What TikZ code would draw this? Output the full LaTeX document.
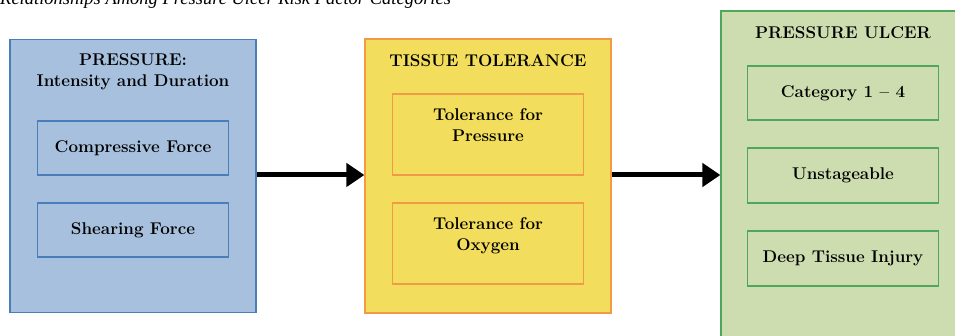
\documentclass[tikz,border=0pt]{standalone}
\usepackage{fontspec}
\usepackage{tikz}
\usepackage{xcolor}
\usetikzlibrary{arrows.meta, positioning, shapes}
\newfontfamily\captionfont{Liberation Serif}
\tikzset{
	% Define arrow style
	pil/.style={
		-{Triangle[length=18pt,width=23pt]},
		line width=5pt
	},
	% outer boxes
	group/.style={
		rectangle,
		draw,
		line width=1.2pt,
		minimum width=246pt
	},
	item/.style={
		rectangle,
		draw,
		line width=1.2pt,
		minimum width=191pt,
		align=center,
		font=\fontsize{17}{21}\selectfont\bfseries
	},
	head/.style={
		align=center,
		font=\fontsize{17}{21}\selectfont\bfseries
	}
}
\definecolor{boxblue}{HTML}{A7C0DE}
\definecolor{lineblue}{HTML}{4A7EBB}
\definecolor{boxyellow}{HTML}{F2DD5C}
\definecolor{lineorange}{HTML}{F39A47}
\definecolor{boxgreen}{HTML}{CEDDB0}
\definecolor{linegreen}{HTML}{4EA85C}

\begin{document}
\begin{tikzpicture}[x=1pt, y=-1pt]
\useasboundingbox (0,0) rectangle (955,336);

\node[anchor=base west, inner sep=0, font=\captionfont\fontsize{18.5}{20}\selectfont\itshape] at (0,5) (caption) {Relationships Among Pressure Ulcer Risk Factor Categories};

% pressure
\node[group, fill=boxblue, draw=lineblue, minimum height=273pt] at (133,176) (press) {};
\node[head] at (133,72) (pressHead) {PRESSURE:\\Intensity and Duration};
\node[item, draw=lineblue, minimum height=54pt] at (133,148) (comp) {Compressive Force};
\node[item, draw=lineblue, minimum height=54pt] at (133,230) (shear) {Shearing Force};

% tissue tolerance
\node[group, fill=boxyellow, draw=lineorange, minimum height=274pt] at (488,176) (tol) {};
\node[head] at (488,61) (tolHead) {TISSUE TOLERANCE};
\node[item, draw=lineorange, minimum height=81pt, text depth=19pt] at (488,134.5) (tolP) {Tolerance for\\Pressure};
\node[item, draw=lineorange, minimum height=81pt, text depth=19pt] at (488,243.5) (tolO) {Tolerance for\\Oxygen};

% pressure ulcer
\node[group, fill=boxgreen, draw=linegreen, minimum width=250pt, minimum height=340pt] at (846,181) (ulcer) {};
\node[head] at (843,33) (ulcerHead) {PRESSURE ULCER};
\node[item, draw=linegreen, minimum height=54pt] at (843,93) (cat) {Category 1 -- 4};
\node[item, draw=linegreen, minimum height=55pt] at (843,175.5) (unst) {Unstageable};
\node[item, draw=linegreen, minimum height=55pt] at (843,258.5) (dti) {Deep Tissue Injury};

% arrows
\draw[pil] (press.east |- 0,175) -- (tol.west |- 0,175);
\draw[pil] (tol.east |- 0,175) -- (ulcer.west |- 0,175);

\end{tikzpicture}
\end{document}
